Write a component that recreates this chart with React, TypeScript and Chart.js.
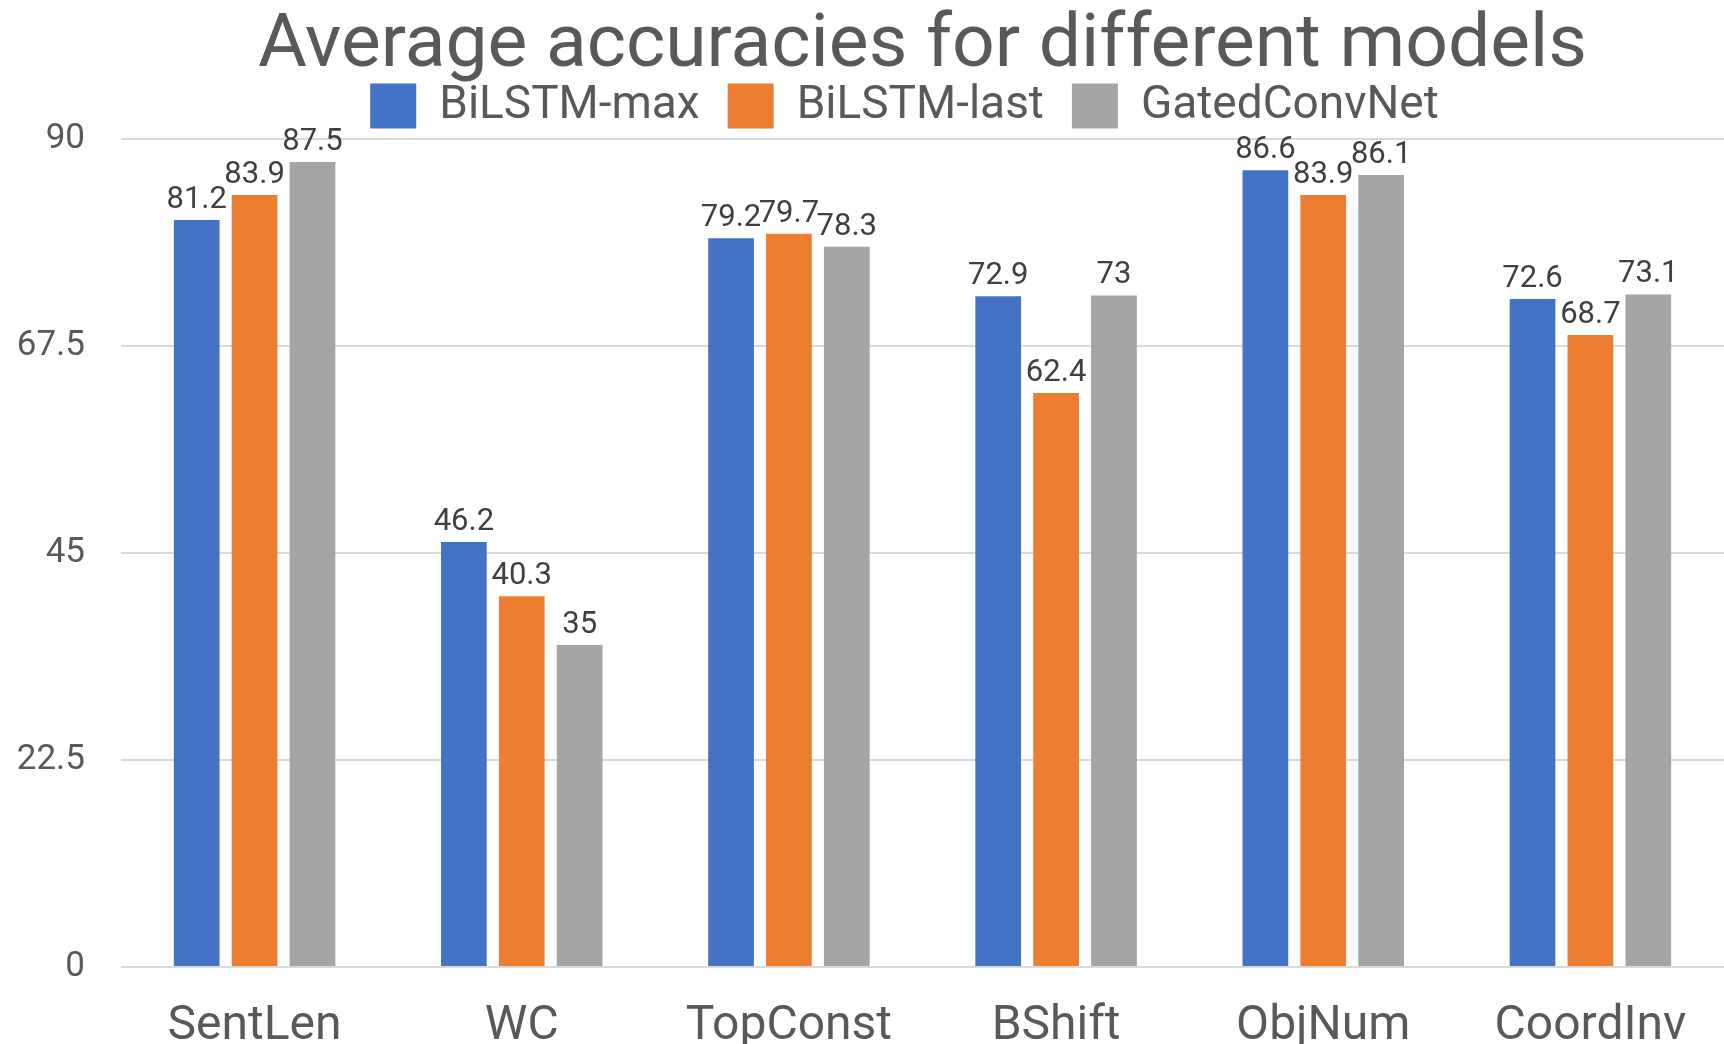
import React, { useEffect, useRef } from "react";
import { Chart, registerables } from "chart.js";

Chart.register(...registerables);

const categories = ["SentLen", "WC", "TopConst", "BShift", "ObjNum", "CoordInv"];
const seriesNames = ["BiLSTM-max", "BiLSTM-last", "GatedConvNet"];
const bilstmMax = [81.2, 46.2, 79.2, 72.9, 86.6, 72.6];
const bilstmLast = [83.9, 40.3, 79.7, 62.4, 83.9, 68.7];
const gatedConvNet = [87.5, 35, 78.3, 73, 86.1, 73.1];
const yTicks = [0, 22.5, 45, 67.5, 90];
const titleText = "Average accuracies for different models";
const seriesColors = ["#4472C4", "#ED7D31", "#A5A5A5"];

const FONT = "Roboto";
const TEXT = "#595959";

const dataLabelPlugin = {
  id: "dataLabels",
  afterDatasetsDraw(chart: any) {
    const ctx = chart.ctx;
    ctx.save();
    ctx.font = `31px ${FONT}`;
    ctx.fillStyle = "#404040";
    ctx.textAlign = "center";
    ctx.textBaseline = "alphabetic";
    chart.data.datasets.forEach((ds: any, di: number) => {
      const meta = chart.getDatasetMeta(di);
      meta.data.forEach((el: any, i: number) => {
        ctx.fillText(String(ds.data[i]), el.x, el.y - 12);
      });
    });
    ctx.restore();
  },
};

const placementPlugin = {
  id: "placement",
  beforeDraw(chart: any) {
    const ca = chart.chartArea;
    const t = chart.titleBlock;
    if (t) {
      t.left = ca.left;
      t.right = ca.right;
      const h = t.bottom - t.top;
      t.top = 10;
      t.bottom = 10 + h;
    }
    const lg = chart.legend;
    if (lg) {
      lg.left = ca.left - 36;
      lg.right = ca.right;
      const h = lg.bottom - lg.top;
      lg.top = 55;
      lg.bottom = 55 + h;
    }
  },
};

export default function App() {
  const canvasRef = useRef<HTMLCanvasElement | null>(null);

  useEffect(() => {
    document.body.style.margin = "0";
    let chart: Chart | null = null;
    let cancelled = false;
    const make = () => {
      if (cancelled || !canvasRef.current) return;
      chart = new Chart(canvasRef.current, {
        type: "bar",
        data: {
          labels: categories,
          datasets: [bilstmMax, bilstmLast, gatedConvNet].map((d, i) => ({
            label: seriesNames[i],
            data: d,
            backgroundColor: seriesColors[i],
            borderWidth: 0,
            categoryPercentage: 0.65,
            barPercentage: 0.79,
          })),
        },
        options: {
          responsive: false,
          animation: false,
          devicePixelRatio: 1,
          layout: { padding: { top: -20, left: 0, right: 0, bottom: 0 } },
          plugins: {
            title: {
              display: true,
              text: titleText,
              color: TEXT,
              font: { family: FONT, size: 75, weight: "normal", lineHeight: 1 },
              padding: 0,
            },
            legend: {
              display: true,
              position: "top",
              labels: {
                color: TEXT,
                font: { family: FONT, size: 46 },
                boxWidth: 46,
                boxHeight: 45,
                padding: 28,
              },
            },
            tooltip: { enabled: false },
          },
          scales: {
            x: {
              grid: { display: false },
              border: { display: false },
              ticks: {
                color: TEXT,
                font: { family: FONT, size: 48 },
                padding: 23,
                maxRotation: 0,
              },
              afterFit(scale: any) {
                scale.height = 77;
              },
            },
            y: {
              min: 0,
              max: 90,
              border: { display: false },
              grid: { color: "#D9D9D9", lineWidth: 2, drawTicks: false },
              ticks: {
                color: TEXT,
                font: { family: FONT, size: 35 },
                padding: 36,
                callback: (v: any) => String(v),
              },
              afterBuildTicks(scale: any) {
                scale.ticks = yTicks.map((v) => ({ value: v }));
              },
              afterFit(scale: any) {
                scale.width = 121;
              },
            },
          },
        },
        plugins: [dataLabelPlugin, placementPlugin],
      } as any);
    };
    const fontsApi: any = (document as any).fonts;
    if (fontsApi && fontsApi.load) {
      Promise.all([
        fontsApi.load(`75px ${FONT}`),
        fontsApi.load(`31px ${FONT}`),
      ])
        .catch(() => {})
        .then(make);
    } else {
      make();
    }
    return () => {
      cancelled = true;
      if (chart) chart.destroy();
    };
  }, []);

  return (
    <div style={{ width: 1724, height: 1044 }}>
      <canvas ref={canvasRef} width={1724} height={1044} style={{ display: "block" }} />
    </div>
  );
}
